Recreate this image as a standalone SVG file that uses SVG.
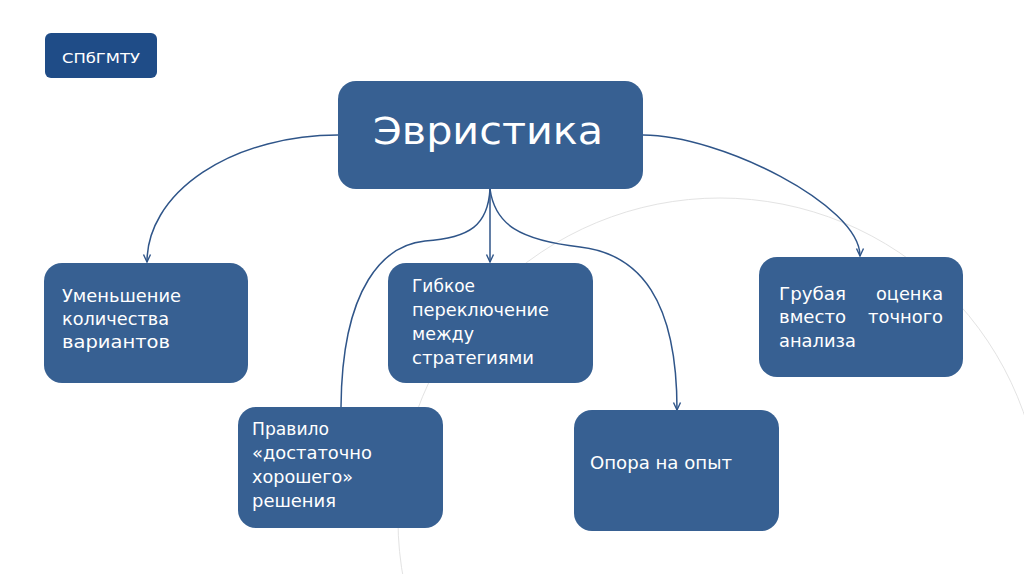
<svg xmlns="http://www.w3.org/2000/svg" width="1024" height="574" viewBox="0 0 1024 574">
<defs>
<style>
.node{fill:#376092;}
.lbl{fill:#ffffff;font-family:"DejaVu Sans","Liberation Sans",sans-serif;font-size:17px;}
.conn{fill:none;stroke:#2f5589;stroke-width:1.5;}
</style>
<marker id="arr" markerUnits="userSpaceOnUse" markerWidth="10" markerHeight="10" viewBox="0 0 10 10" refX="9" refY="5" orient="auto">
<path d="M1.5,1.5 L9,5 L1.5,8.5" fill="none" stroke="#2f5589" stroke-width="1.4"/>
</marker>
</defs>
<rect width="1024" height="574" fill="#ffffff"/>
<circle cx="720" cy="520" r="322" fill="none" stroke="#e3e3e3" stroke-width="1"/>
<g id="connectors">
<path class="conn" d="M338,135 A191,127 0 0 0 147,262" marker-end="url(#arr)"/>
<path class="conn" d="M643,135 C720,135 860,205 860,256" marker-end="url(#arr)"/>
<path class="conn" d="M490,189 L490,262" marker-end="url(#arr)"/>
<path class="conn" d="M490,189 C488,225 470,238 425,241 C385,245 342,285 341,407"/>
<path class="conn" d="M490,189 C495,225 520,240 580,247 C640,254 677,300 677,410" marker-end="url(#arr)"/>
</g>
<g id="logo">
<rect x="45" y="33" width="112" height="45" rx="6" fill="#1f4c87"/>
<text x="101" y="62.5" text-anchor="middle" fill="#ffffff" font-family="DejaVu Sans, Liberation Sans, sans-serif" font-size="14" textLength="78" lengthAdjust="spacingAndGlyphs">СПбГМТУ</text>
</g>
<g id="main">
<rect class="node" x="338" y="81" width="305" height="108" rx="18"/>
<text x="373" y="144" fill="#ffffff" font-family="DejaVu Sans, Liberation Sans, sans-serif" font-size="37" textLength="230" lengthAdjust="spacingAndGlyphs">Эвристика</text>
</g>
<g id="n1">
<rect class="node" x="44" y="263" width="204" height="120" rx="18"/>
<text class="lbl"><tspan x="62" y="302" textLength="119" lengthAdjust="spacingAndGlyphs">Уменьшение</tspan><tspan x="62" y="325" textLength="107" lengthAdjust="spacingAndGlyphs">количества</tspan><tspan x="62" y="348" textLength="108" lengthAdjust="spacingAndGlyphs">вариантов</tspan></text>
</g>
<g id="n2">
<rect class="node" x="388" y="263" width="205" height="120" rx="18"/>
<text class="lbl"><tspan x="412" y="292" textLength="63" lengthAdjust="spacingAndGlyphs">Гибкое</tspan><tspan x="412" y="316" textLength="137" lengthAdjust="spacingAndGlyphs">переключение</tspan><tspan x="412" y="340" textLength="62" lengthAdjust="spacingAndGlyphs">между</tspan><tspan x="412" y="364" textLength="122" lengthAdjust="spacingAndGlyphs">стратегиями</tspan></text>
</g>
<g id="n3">
<rect class="node" x="759" y="257" width="204" height="120" rx="18"/>
<text class="lbl"><tspan x="779" y="300" textLength="67" lengthAdjust="spacingAndGlyphs">Грубая</tspan><tspan x="876" y="300" textLength="67" lengthAdjust="spacingAndGlyphs">оценка</tspan><tspan x="779" y="323" textLength="67" lengthAdjust="spacingAndGlyphs">вместо</tspan><tspan x="868" y="323" textLength="75" lengthAdjust="spacingAndGlyphs">точного</tspan><tspan x="779" y="347" textLength="77" lengthAdjust="spacingAndGlyphs">анализа</tspan></text>
</g>
<g id="n4">
<rect class="node" x="238" y="407" width="205" height="121" rx="18"/>
<text class="lbl"><tspan x="252" y="435" textLength="77" lengthAdjust="spacingAndGlyphs">Правило</tspan><tspan x="252" y="459" textLength="120" lengthAdjust="spacingAndGlyphs">«достаточно</tspan><tspan x="252" y="483" textLength="101" lengthAdjust="spacingAndGlyphs">хорошего»</tspan><tspan x="252" y="507" textLength="84" lengthAdjust="spacingAndGlyphs">решения</tspan></text>
</g>
<g id="n5">
<rect class="node" x="574" y="410" width="205" height="121" rx="18"/>
<text class="lbl" x="590" y="469" textLength="142" lengthAdjust="spacingAndGlyphs">Опора на опыт</text>
</g>
</svg>
